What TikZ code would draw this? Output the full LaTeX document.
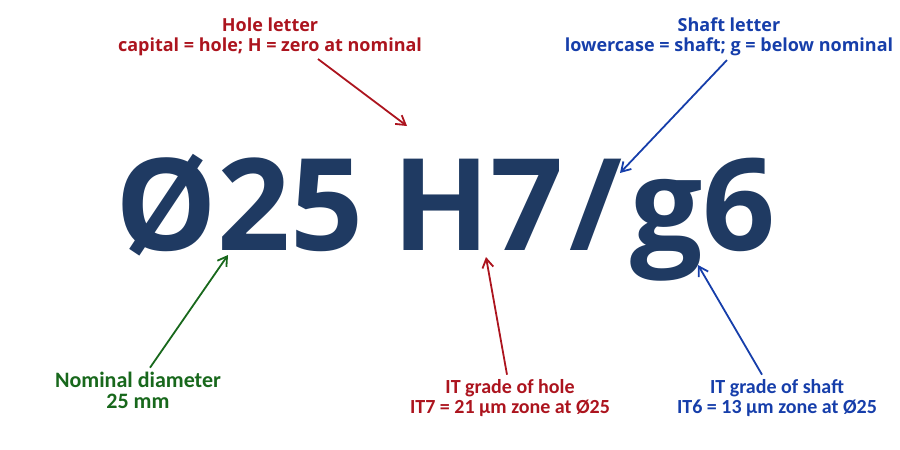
\documentclass[tikz,border=0pt]{standalone}
\usepackage{fontspec}
\setmainfont{Open Sans}
\newfontfamily\lblfont{Carlito}
\usepackage{tikz}
\usetikzlibrary{calc,arrows.meta}

\definecolor{fitnavy}{RGB}{31,58,98}
\definecolor{holered}{RGB}{172,20,30}
\definecolor{shaftblue}{RGB}{22,62,170}
\definecolor{nomgreen}{RGB}{24,104,28}

\tikzset{
    toplabel/.style = {align=center, inner sep=0pt, outer sep=0pt, font=\bfseries\fontsize{9}{10}\selectfont},
    botlabel/.style = {align=center, inner sep=0pt, outer sep=0pt, font=\lblfont\bfseries\fontsize{10}{9.75}\selectfont},
    pointer/.style = {line width=0.9pt, -{Straight Barb[length=4.5pt,width=5.5pt,line width=0.9pt]}},
}

\begin{document}
\begin{tikzpicture}[x=0.5pt, y=-0.5pt]

\useasboundingbox (0,0) rectangle (900,450);

\node[anchor=base west, inner sep=0pt, text=fitnavy, font=\bfseries\fontsize{64}{70}\selectfont] (fit) at (115,250) {Ø25\kern-2pt\ H7\kern3pt/\kern4pt g6};

\coordinate (holetip) at (407,126);
\coordinate (shafttip) at (620,173);
\coordinate (nomtip) at (228,255);
\coordinate (holeITtip) at (486,257);
\coordinate (shaftITtip) at (698,265);

\node[toplabel, text=holered] (holelbl) at (270,37) {Hole letter\\capital = hole; H = zero at nominal};
\node[toplabel, text=shaftblue] (shaftlbl) at (729,37) {Shaft letter\\lowercase = shaft; g = below nominal};

\node[botlabel, text=nomgreen, font=\lblfont\bfseries\fontsize{11}{10.5}\selectfont] (nomlbl) at (138,390) {Nominal diameter\\25 mm};
\node[botlabel, text=holered] (holeITlbl) at (510,398) {IT grade of hole\\IT7 = 21 µm zone at Ø25};
\node[botlabel, text=shaftblue] (shaftITlbl) at (777,398) {IT grade of shaft\\IT6 = 13 µm zone at Ø25};

\draw[pointer, holered] ($(holelbl.south)+(48,3)$) -- (holetip);
\draw[pointer, shaftblue] ($(shaftlbl.south)+(-2,4)$) -- (shafttip);
\draw[pointer, nomgreen] ($(nomlbl.north)+(12,-4)$) -- (nomtip);
\draw[pointer, holered] ($(holeITlbl.north)+(-3,-5)$) -- (holeITtip);
\draw[pointer, shaftblue] ($(shaftITlbl.north)+(-15,-5)$) -- (shaftITtip);

\end{tikzpicture}
\end{document}
